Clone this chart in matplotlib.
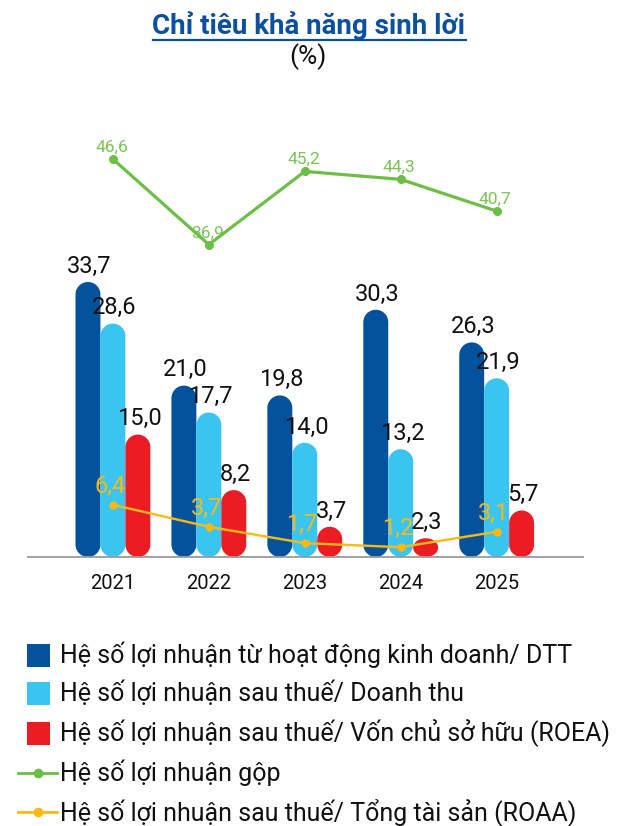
import numpy as np
import matplotlib
matplotlib.use("Agg")
import matplotlib.pyplot as plt
from matplotlib.patches import Polygon, Rectangle
from matplotlib.lines import Line2D

plt.rcParams["font.family"] = ["Roboto", "DejaVu Sans"]

years = ["2021", "2022", "2023", "2024", "2025"]
op_margin = [33.7, 21.0, 19.8, 30.3, 26.3]      # LN tu HDKD / DTT
net_margin = [28.6, 17.7, 14.0, 13.2, 21.9]     # LNST / Doanh thu
roea = [15.0, 8.2, 3.7, 2.3, 5.7]
gross_margin = [46.6, 36.9, 45.2, 44.3, 40.7]
roaa = [6.4, 3.7, 1.7, 1.2, 3.1]

labels = ["Hệ số lợi nhuận từ hoạt động kinh doanh/ DTT",
          "Hệ số lợi nhuận sau thuế/ Doanh thu",
          "Hệ số lợi nhuận sau thuế/ Vốn chủ sở hữu (ROEA)",
          "Hệ số lợi nhuận gộp",
          "Hệ số lợi nhuận sau thuế/ Tổng tài sản (ROAA)"]

C_DARK = "#03539C"
C_LIGHT = "#39C5F0"
C_RED = "#EC1C24"
C_GREEN = "#6DBE45"
C_GREEN_TXT = "#7DC456"
C_YELLOW = "#FDB813"
C_TITLE = "#0B4F9E"

fmt = lambda v: f"{v:.1f}".replace(".", ",")

W, H = 622, 826
fig = plt.figure(figsize=(W / 100, H / 100), dpi=100)

# axes placed in pixel terms of the reference
left_px, right_px, bot_px, top_px = 28, 583, 557, 100
ax = fig.add_axes([left_px / W, 1 - bot_px / H,
                   (right_px - left_px) / W, (bot_px - top_px) / H])
ax.set_xlim(-0.885, 4.9)
ax.set_ylim(0, 56.0)

x = np.arange(len(years))
bw = 0.26

# pixel scale, so the pill ends come out as half circles
bb = ax.get_window_extent()
xpx = bb.width / (ax.get_xlim()[1] - ax.get_xlim()[0])
ypx = bb.height / (ax.get_ylim()[1] - ax.get_ylim()[0])
ry_full = (bw / 2) * xpx / ypx  # half bar width expressed in y units


def pill(xc, v, col):
    ry = min(ry_full, v / 2)
    th = np.linspace(0, np.pi, 30)
    top = np.column_stack([xc + bw / 2 * np.cos(th), v - ry + ry * np.sin(th)])
    bot = np.column_stack([xc - bw / 2 * np.cos(th), ry - ry * np.sin(th)])
    ax.add_patch(Polygon(np.vstack([top, bot]), closed=True, fc=col, ec="none", zorder=2))


for series, off, col in [(op_margin, -bw, C_DARK),
                         (net_margin, 0, C_LIGHT),
                         (roea, bw, C_RED)]:
    for xi, v in zip(x, series):
        pill(xi + off, v, col)
        ax.annotate(fmt(v), (xi + off, v), xytext=(1, 3), textcoords="offset points",
                    ha="center", va="bottom", fontsize=17, color="#111111", zorder=5)

ax.plot(x, roaa, color=C_YELLOW, lw=1.7, marker="o", ms=5, zorder=4)
for xi, v in zip(x, roaa):
    ax.annotate(fmt(v), (xi, v), xytext=(-2, 5), textcoords="offset points",
                ha="center", va="bottom", fontsize=17, color=C_YELLOW, zorder=5)

ax.set_xticks(x)
ax.set_xticklabels(years, fontsize=14.5, color="#111111")
ax.tick_params(axis="x", length=0, pad=12)
ax.set_yticks([])
for s in ["top", "left", "right"]:
    ax.spines[s].set_visible(False)
ax.spines["bottom"].set_color("#9A9A9A")
ax.spines["bottom"].set_linewidth(1.3)
ax.patch.set_visible(False)

ax2 = ax.twinx()
ax2.set_ylim(1.47, 53.3)
ax2.axis("off")
ax2.plot(x, gross_margin, color=C_GREEN, lw=2.3, marker="o", ms=5.5, zorder=4)
for xi, v in zip(x, gross_margin):
    ax2.annotate(fmt(v), (xi, v), xytext=(-1, 3), textcoords="offset points",
                 ha="center", va="bottom", fontsize=12.5, color=C_GREEN_TXT)

# title + underline
t = fig.text(309 / W, 1 - 25 / H, "Chỉ tiêu khả năng sinh lời", ha="center", va="center",
             fontsize=20, fontweight="bold", color=C_TITLE)
fig.text(308 / W, 1 - 57 / H, "(%)", ha="center", va="center", fontsize=19, color="#111111")
fig.canvas.draw()
tb = t.get_window_extent()
fig.add_artist(Line2D([tb.x0 / W, tb.x1 / W], [1 - 40 / H, 1 - 40 / H],
                      color=C_TITLE, lw=1.6, transform=fig.transFigure))

# legend, drawn by hand
rows_y = [655, 693, 733, 773, 812]
for i, (lab, yy) in enumerate(zip(labels, rows_y)):
    yf = 1 - yy / H
    if i < 3:
        col = [C_DARK, C_LIGHT, C_RED][i]
        fig.add_artist(Rectangle((27 / W, 1 - (yy + 11.5) / H), 23 / W, 23 / H,
                                 transform=fig.transFigure, fc=col, ec="none"))
    else:
        col = [C_GREEN, C_YELLOW][i - 3]
        fig.add_artist(Line2D([18 / W, 57 / W], [yf, yf], color=col, lw=2,
                              transform=fig.transFigure))
        fig.add_artist(Line2D([37.5 / W], [yf], color=col, marker="o", ms=6, lw=0,
                              transform=fig.transFigure))
    fig.text(60 / W, yf, lab, ha="left", va="center", fontsize=18, color="#111111")

fig.savefig("out.png", dpi=100)
